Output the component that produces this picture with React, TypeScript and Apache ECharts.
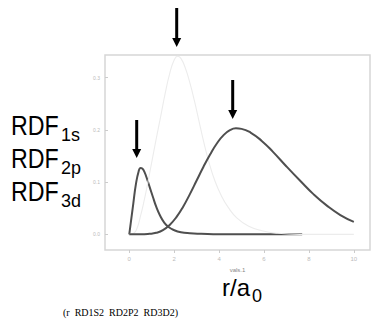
import React, { useEffect, useRef } from "react";
import * as echarts from "echarts";

const r1s = [0, 0.18, 0.3, 0.42, 0.5, 0.58, 0.68, 0.8, 0.92, 1.05, 1.2, 1.37, 1.55, 1.75, 2.0, 2.3, 2.7, 3.2, 4.0, 5.0, 6.0, 7.7];
const v1s = [0, 0.059, 0.097, 0.121, 0.127, 0.126, 0.119, 0.105, 0.089, 0.072, 0.053, 0.036, 0.023, 0.014, 0.008, 0.004, 0.002, 0.001, 0, 0, 0, 0];

const r2p = [0, 0.2, 0.35, 0.5, 0.65, 0.8, 1.0, 1.2, 1.4, 1.6, 1.8, 2.0, 2.15, 2.3, 2.5, 2.7, 2.9, 3.1, 3.3, 3.55, 3.8, 4.1, 4.4, 4.8, 5.3, 5.9, 6.6, 7.6, 10];
const v2p = [0, 0.002, 0.012, 0.035, 0.062, 0.093, 0.138, 0.183, 0.226, 0.27, 0.308, 0.334, 0.341, 0.337, 0.318, 0.29, 0.256, 0.218, 0.18, 0.138, 0.104, 0.074, 0.052, 0.031, 0.016, 0.007, 0.002, 0, 0];

const r3d = [0, 0.5, 0.9, 1.2, 1.5, 1.8, 2.1, 2.4, 2.7, 3.0, 3.3, 3.6, 3.9, 4.2, 4.5, 4.75, 5.0, 5.4, 5.9, 6.4, 7.0, 7.6, 8.2, 8.8, 9.4, 10];
const v3d = [0, 0, 0.001, 0.003, 0.008, 0.018, 0.033, 0.053, 0.077, 0.103, 0.129, 0.153, 0.174, 0.19, 0.2, 0.203, 0.202, 0.195, 0.179, 0.158, 0.13, 0.103, 0.077, 0.055, 0.037, 0.024];

const xTicks = [0, 2, 4, 6, 8, 10];
const yTicks = [0, 0.1, 0.2, 0.3];

const pairs = (xs: number[], ys: number[]) => xs.map((x, i) => [x, ys[i]]);

function arrow(cx: number, top: number, tip: number) {
  const headH = 9;
  return {
    type: "group",
    children: [
      { type: "rect", shape: { x: cx - 1.5, y: top, width: 3, height: tip - top - headH + 1 }, style: { fill: "#000" } },
      {
        type: "polygon",
        shape: { points: [[cx - 4.5, tip - headH], [cx + 4.5, tip - headH], [cx, tip]] },
        style: { fill: "#000" },
      },
    ],
  };
}

const sans = "'Liberation Sans', Arial, sans-serif";

function rdfLabel(y: number, sub: string) {
  return {
    type: "group",
    children: [
      {
        type: "text",
        x: 11,
        y,
        scaleX: 0.86,
        style: { text: "RDF", font: `27px ${sans}`, fill: "#000", verticalAlign: "middle", align: "left" },
      },
      {
        type: "text",
        x: 61,
        y: y + 9.5,
        style: { text: sub, font: `18px ${sans}`, fill: "#000", verticalAlign: "middle", align: "left" },
      },
    ],
  };
}

export default function App() {
  const ref = useRef<HTMLDivElement>(null);
  useEffect(() => {
    document.body.style.margin = "0";
    const chart = echarts.init(ref.current!, undefined, { renderer: "svg" });
    const lineCommon = { type: "line", showSymbol: false, smooth: true };
    chart.setOption({
      animation: false,
      backgroundColor: "#fff",
      grid: { left: 105, right: 1, top: 55, bottom: 70, show: true, borderColor: "#d6d6d6", borderWidth: 1.5 },
      xAxis: {
        type: "value",
        min: -1.08,
        max: 10.72,
        name: "vals.1",
        nameLocation: "middle",
        nameGap: 16,
        nameTextStyle: { fontSize: 6, color: "#888", fontFamily: sans },
        splitLine: { show: false },
        axisLine: { show: false, onZero: false },
        axisTick: { show: true, customValues: xTicks, length: 3, inside: false, lineStyle: { color: "#ccc" } },
        axisLabel: { customValues: xTicks, fontSize: 6, color: "#bbb", margin: 6, fontFamily: sans },
      },
      yAxis: {
        type: "value",
        min: -0.03,
        max: 0.3435,
        splitLine: { show: false },
        axisLine: { show: false, onZero: false },
        axisTick: { show: true, customValues: yTicks, length: 3, inside: true, lineStyle: { color: "#ccc" } },
        axisLabel: {
          customValues: yTicks,
          fontSize: 5,
          color: "#bbb",
          margin: 5,
          fontFamily: sans,
          formatter: (v: number) => v.toFixed(1),
        },
      },
      series: [
        { ...lineCommon, name: "RD1S2", data: pairs(r1s, v1s), lineStyle: { color: "#4f4f4f", width: 2 }, z: 2 },
        { ...lineCommon, name: "RD2P2", data: pairs(r2p, v2p), lineStyle: { color: "#ececec", width: 1.1 }, z: 3 },
        { ...lineCommon, name: "RD3D2", data: pairs(r3d, v3d), lineStyle: { color: "#4f4f4f", width: 2 }, z: 4 },
      ],
      graphic: [
        arrow(136.7, 120, 158),
        arrow(176.7, 8, 47),
        arrow(232.7, 80, 119),
        rdfLabel(125, "1s"),
        rdfLabel(158, "2p"),
        rdfLabel(191, "3d"),
        {
          type: "text",
          x: 222,
          y: 287,
          style: { text: "r/a", font: `24px ${sans}`, fill: "#000", verticalAlign: "middle", align: "left" },
        },
        {
          type: "text",
          x: 252,
          y: 295.5,
          style: { text: "0", font: `18px ${sans}`, fill: "#000", verticalAlign: "middle", align: "left" },
        },
        {
          type: "text",
          x: 63,
          y: 312,
          style: {
            text: "(r\u00a0\u00a0RD1S2\u00a0\u00a0RD2P2\u00a0\u00a0RD3D2)",
            font: "10px 'Liberation Serif', 'Times New Roman', serif",
            fill: "#000",
            verticalAlign: "middle",
            align: "left",
          },
        },
      ],
    });
    return () => chart.dispose();
  }, []);
  return <div ref={ref} style={{ width: 371, height: 320 }} />;
}
